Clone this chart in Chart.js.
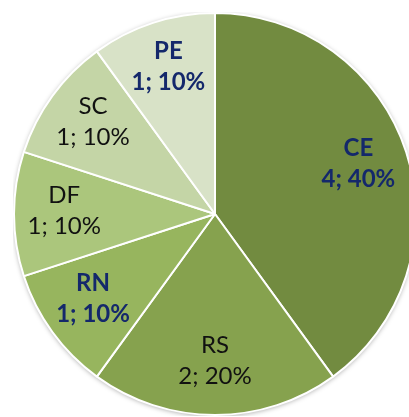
<!DOCTYPE html>
<html>
<head>
<meta charset="utf-8">
<script src="https://cdn.jsdelivr.net/npm/chart.js@4/dist/chart.umd.min.js"></script>
<style>
  html, body { margin: 0; padding: 0; background: #fff; overflow: hidden; width: 409px; height: 417px; }
  #wrap { position: absolute; left: 13px; top: 12px; width: 404px; height: 404px; }
</style>
</head>
<body>
<div id="wrap"><canvas id="pieChart" width="404" height="404"></canvas></div>
<script>
// Categories and counts (clockwise from 12 o'clock)
const categories = ['CE', 'RS', 'RN', 'DF', 'SC', 'PE'];
const counts = [4, 2, 1, 1, 1, 1];

// Styling
const sliceColors = ['#728b40', '#86a24e', '#97b55e', '#abc67c', '#c4d5a6', '#d8e2c7'];
const highlighted = [true, false, true, false, false, true];

const total = counts.reduce((a, b) => a + b, 0);

// soft shadow behind the pie
const pieShadow = {
    id: 'pieShadow',
    beforeDatasetsDraw(chart) {
        const arc = chart.getDatasetMeta(0).data[0];
        if (!arc) return;
        const ctx = chart.ctx;
        ctx.save();
        ctx.shadowColor = 'rgba(0,0,0,0.35)';
        ctx.shadowBlur = 5;
        ctx.shadowOffsetY = 1;
        ctx.beginPath();
        ctx.arc(arc.x, arc.y, arc.outerRadius, 0, Math.PI * 2);
        ctx.fillStyle = '#fff';
        ctx.fill();
        ctx.restore();
    }
};

// labels inside each slice: "NAME" / "n; p%"
const sliceLabels = {
    id: 'sliceLabels',
    afterDatasetsDraw(chart) {
        const ctx = chart.ctx;
        chart.getDatasetMeta(0).data.forEach((arc, i) => {
            const mid = (arc.startAngle + arc.endAngle) / 2;
            const r = arc.outerRadius * 0.75;
            const x = arc.x + Math.cos(mid) * r;
            const y = arc.y + Math.sin(mid) * r - 4;
            const pct = Math.round(counts[i] / total * 100);
            ctx.save();
            ctx.textAlign = 'center';
            ctx.textBaseline = 'middle';
            ctx.font = (highlighted[i] ? 'bold ' : '') + '24px Lato';
            ctx.fillStyle = highlighted[i] ? '#14286b' : '#111111';
            ctx.fillText(categories[i], x, y - 15);
            ctx.fillText(counts[i] + '; ' + pct + '%', x, y + 16);
            ctx.restore();
        });
    }
};

new Chart(document.getElementById('pieChart'), {
    type: 'pie',
    data: {
        labels: categories,
        datasets: [{
            data: counts,
            backgroundColor: sliceColors,
            borderColor: '#ffffff',
            borderWidth: 2
        }]
    },
    options: {
        responsive: false,
        animation: false,
        layout: { padding: 0 },
        plugins: {
            legend: { display: false },
            tooltip: { enabled: false }
        }
    },
    plugins: [pieShadow, sliceLabels]
});
</script>
</body>
</html>
